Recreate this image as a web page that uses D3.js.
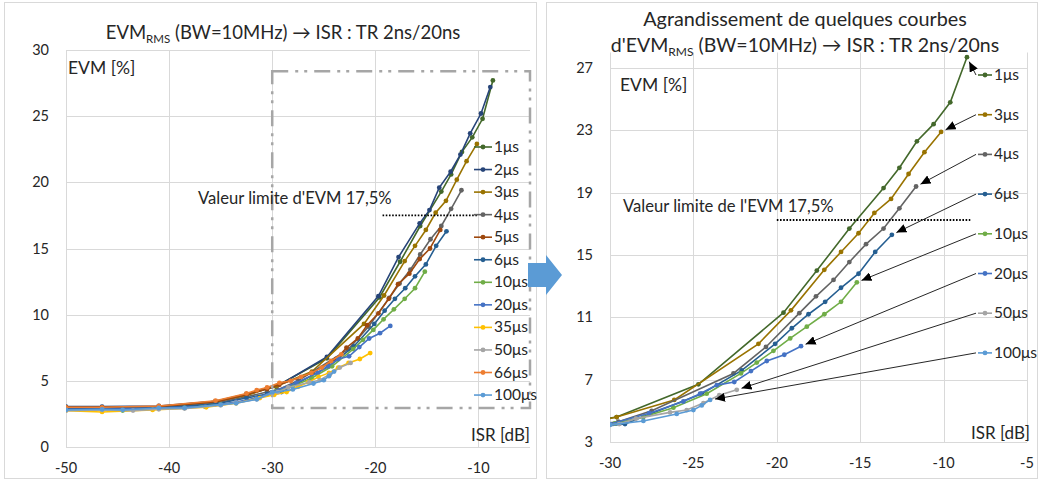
<!DOCTYPE html>
<html>
<head>
<meta charset="utf-8">
<script src="https://cdn.jsdelivr.net/npm/d3@7"></script>
<style>
  body { margin: 0; background: #fff; }
  svg { display: block; }
  text { font-family: Lato, "Noto Sans", sans-serif; fill: #262626; }
</style>
</head>
<body>
<svg id="chart" width="1040" height="481"></svg>
<script>
// ---- data: [ISR dB, EVM %] ----
const s1us = [[-50,3.0],[-46.5,3.0],[-41,3.05],[-35.5,3.45],[-32.5,4.0],[-30.5,4.45],[-29.6,4.6],[-24.7,6.7],[-19.6,11.3],[-17.6,14.0],[-15.65,16.7],[-13.6,19.3],[-12.65,20.6],[-11.6,22.3],[-10.6,23.4],[-9.6,24.8],[-8.6,27.7]];
const s2us = [[-50,3.05],[-46.5,3.05],[-41,3.1],[-35.5,3.45],[-32.5,3.95],[-30.5,4.4],[-29.6,4.55],[-24.7,6.8],[-19.7,11.4],[-17.75,14.35],[-15.7,16.9],[-14.75,17.9],[-13.8,19.6],[-12.7,20.8],[-11.75,22.1],[-10.8,23.7],[-9.75,25.2],[-8.85,27.2]];
const s3us = [[-50,2.95],[-46.5,2.95],[-41,3.0],[-35.5,3.4],[-32.5,3.9],[-30.5,4.4],[-29.6,4.6],[-26.15,5.7],[-21.1,9.3],[-19.15,11.45],[-17.15,14.05],[-16.15,15.2],[-15.1,16.4],[-14.15,17.7],[-13.15,18.6],[-12.1,20.2],[-11.15,21.6],[-10.15,22.9]];
const s4us = [[-50,2.9],[-46.5,2.9],[-41,2.95],[-35.5,3.3],[-32.5,3.8],[-30.5,4.15],[-29.5,4.3],[-27.5,5.0],[-22.6,7.4],[-20.65,9.1],[-18.65,11.27],[-17.65,12.35],[-16.6,13.4],[-15.65,14.55],[-14.65,15.7],[-13.6,16.7],[-12.65,18.0],[-11.65,19.4]];
const s5us = [[-50,3.0],[-46.5,3.0],[-41,3.05],[-35.5,3.4],[-32.5,3.95],[-30.5,4.4],[-29.3,4.7],[-26.1,5.6],[-23.8,6.65],[-22.8,7.5],[-21.7,8.2],[-20.8,9.2],[-19.7,10.1],[-18.7,11.2],[-17.8,12.3],[-16.7,13.1],[-15.7,14.2],[-14.7,15.0],[-13.7,16.4]];
const s6us = [[-50,2.95],[-46.5,2.95],[-41,2.95],[-35.5,3.25],[-32.5,3.7],[-30.5,4.0],[-29.1,4.15],[-27.6,4.8],[-24.5,6.1],[-22.1,7.6],[-20.1,9.3],[-19.1,10.3],[-18.1,11.2],[-17.1,12.0],[-16.15,12.9],[-15.1,13.8],[-14.1,15.2],[-13.1,16.3]];
const s10us = [[-50,2.8],[-46.5,2.8],[-44.5,2.75],[-41,2.9],[-38.5,2.95],[-35,3.2],[-33.5,3.35],[-31.5,3.7],[-29.7,4.2],[-28,4.6],[-26.2,5.2],[-24.2,6.1],[-22.15,7.4],[-21.2,8.1],[-20.2,8.85],[-19.2,9.65],[-18.2,10.4],[-17.15,11.2],[-16.15,12.0],[-15.2,13.25]];
const s20us = [[-50,2.85],[-46.5,2.85],[-41,2.95],[-36.5,3.05],[-33.5,3.4],[-31.5,3.7],[-30,4.15],[-27.65,4.85],[-25.6,5.6],[-24.6,6.1],[-23.6,6.65],[-22.55,6.85],[-21.55,7.55],[-20.6,8.2],[-19.55,8.6],[-18.55,9.15]];
const s35us = [[-50,2.75],[-46.5,2.65],[-41.6,2.8],[-36.4,3.0],[-33.5,3.3],[-31.2,3.7],[-29.8,3.95],[-28.6,4.15],[-27.5,4.55],[-26.5,4.9],[-25.5,5.3],[-24.5,5.6],[-23.6,6.0],[-22.6,6.35],[-21.5,6.65],[-20.5,7.1]];
const s50us = [[-50,2.75],[-46.5,2.8],[-43.5,2.75],[-41,2.85],[-38.5,2.9],[-35,3.15],[-33.5,3.35],[-31.5,3.6],[-30,4.1],[-29.45,4.15],[-28.45,4.5],[-26.4,4.9],[-25.4,5.05],[-24.4,5.5],[-23.45,6.0],[-22.4,6.35]];
const s66us = [[-50,3.0],[-46.5,3.0],[-41,3.1],[-35.5,3.5],[-32.5,4.05],[-31.5,4.3],[-30.5,4.5],[-29.3,4.85],[-28.2,5.0],[-27.2,5.3],[-26.2,5.6],[-25.2,6.0],[-24.3,6.5],[-23.3,7.0]];
const s100us = [[-50,2.8],[-46.5,2.85],[-44.5,2.8],[-41,2.95],[-38.5,2.95],[-35,3.2],[-33.5,3.3],[-31.5,3.6],[-30,4.1],[-28,4.35],[-26,4.8],[-25,5.05],[-24.5,5.35],[-24,5.7]];

const seriesNames = ["1μs","2μs","3μs","4μs","5μs","6μs","10μs","20μs","35μs","50μs","66μs","100μs"];
const seriesData = [s1us,s2us,s3us,s4us,s5us,s6us,s10us,s20us,s35us,s50us,s66us,s100us];
const seriesColors = ["#43682b","#264478","#997300","#636363","#9e480e","#255e91","#70ad47","#4472c4","#ffc000","#a5a5a5","#ed7d31","#5b9bd5"];
const zoomSeries = ["1μs","3μs","4μs","6μs","10μs","20μs","50μs","100μs"];

const leftXTicks = [-50,-40,-30,-20,-10];
const leftYTicks = [0,5,10,15,20,25,30];
const rightXTicks = [-30,-25,-20,-15,-10,-5];
const rightYTicks = [3,7,11,15,19,23,27];

const evmLimit = 17.5;
const zoomBox = {x0: -30, x1: -5, y0: 2.95, y1: 28.4};

const svg = d3.select("#chart");
const defs = svg.append("defs");
defs.append("marker")
  .attr("id", "arrowHead")
  .attr("markerUnits", "userSpaceOnUse")
  .attr("markerWidth", 11).attr("markerHeight", 9)
  .attr("refX", 10).attr("refY", 4.5)
  .attr("orient", "auto")
  .append("path").attr("d", "M0,0 L10,4.5 L0,9 Z").attr("fill", "#000");

// panel frames
svg.append("rect").attr("x", 4.5).attr("y", 2.5).attr("width", 532).attr("height", 476)
  .attr("fill", "none").attr("stroke", "#d9d9d9");
svg.append("rect").attr("x", 546.5).attr("y", 2.5).attr("width", 491).attr("height", 476)
  .attr("fill", "none").attr("stroke", "#d9d9d9");

function drawPanel(cfg) {
  const g = svg.append("g");
  const x = d3.scaleLinear().domain(cfg.xDomain).range(cfg.xRange);
  const y = d3.scaleLinear().domain(cfg.yDomain).range(cfg.yRange);

  // grid
  g.selectAll(".hg").data(cfg.yTicks).join("line")
    .attr("x1", cfg.xRange[0]).attr("x2", cfg.xRange[1])
    .attr("y1", d => Math.round(y(d)) + 0.5).attr("y2", d => Math.round(y(d)) + 0.5)
    .attr("stroke", "#d9d9d9");
  g.selectAll(".vg").data(cfg.xTicks).join("line")
    .attr("x1", d => Math.round(x(d)) + 0.5).attr("x2", d => Math.round(x(d)) + 0.5)
    .attr("y1", cfg.yRange[0]).attr("y2", cfg.gridTop)
    .attr("stroke", "#d9d9d9");

  // tick labels
  g.selectAll(".yl").data(cfg.yTicks).join("text")
    .attr("x", cfg.xRange[0] - 17).attr("y", d => y(d) + 5)
    .attr("text-anchor", "end").attr("font-size", 14.5)
    .text(d => d);
  g.selectAll(".xl").data(cfg.xTicks).join("text")
    .attr("x", d => x(d)).attr("y", cfg.yRange[0] + 26)
    .attr("text-anchor", "middle").attr("font-size", 14.5)
    .text(d => d);

  const clipId = "clip" + cfg.id;
  defs.append("clipPath").attr("id", clipId).append("rect")
    .attr("x", cfg.xRange[0]).attr("y", 0)
    .attr("width", cfg.xRange[1] - cfg.xRange[0]).attr("height", cfg.yRange[0]);

  const line = d3.line().x(d => x(d[0])).y(d => y(d[1]));
  const plot = g.append("g").attr("clip-path", `url(#${clipId})`);
  cfg.series.forEach(s => {
    plot.append("path").datum(s.data)
      .attr("d", line).attr("fill", "none")
      .attr("stroke", s.color).attr("stroke-width", 1.6);
    plot.selectAll(null).data(s.data.filter(d => d[0] >= cfg.xDomain[0])).join("circle")
      .attr("cx", d => x(d[0])).attr("cy", d => y(d[1])).attr("r", 2.4)
      .attr("fill", s.color);
  });

  return {g, x, y};
}

// ---------------- left panel ----------------
const left = drawPanel({
  id: "L",
  xDomain: [-50, -5], xRange: [66, 530],
  yDomain: [0, 30], yRange: [447, 50], gridTop: 50,
  xTicks: leftXTicks, yTicks: leftYTicks,
  series: seriesData.map((d, i) => ({data: d, color: seriesColors[i]}))
});

// zoom rectangle
left.g.append("rect")
  .attr("x", left.x(zoomBox.x0)).attr("y", left.y(zoomBox.y1))
  .attr("width", left.x(zoomBox.x1) - left.x(zoomBox.x0))
  .attr("height", left.y(zoomBox.y0) - left.y(zoomBox.y1))
  .attr("fill", "none").attr("stroke", "#a6a6a6").attr("stroke-width", 2.5)
  .attr("stroke-dasharray", "16,7,3,6,3,7");

left.g.append("line")
  .attr("x1", left.x(-19.3)).attr("x2", left.x(-10.1))
  .attr("y1", left.y(evmLimit)).attr("y2", left.y(evmLimit))
  .attr("stroke", "#000").attr("stroke-width", 1.8).attr("stroke-dasharray", "1.6,1.6");
left.g.append("text").attr("x", 198).attr("y", 204).attr("font-size", 16.6)
  .text("Valeur limite d'EVM 17,5%");

// left legend
const leftLegend = left.g.selectAll(".lg").data(seriesNames).join("g")
  .attr("transform", (d, i) => `translate(474,${147 + i * 22.55})`);
leftLegend.append("line").attr("x1", 0).attr("x2", 18)
  .attr("stroke", (d, i) => seriesColors[i]).attr("stroke-width", 1.6);
leftLegend.append("circle").attr("cx", 9).attr("r", 2.4).attr("fill", (d, i) => seriesColors[i]);
leftLegend.append("text").attr("x", 20).attr("y", 5).attr("font-size", 15.5)
  .attr("fill", "#404040").text(d => d);

left.g.append("text").attr("x", 68).attr("y", 74).attr("font-size", 17.5).text("EVM [%]");
left.g.append("text").attr("x", 530).attr("y", 441).attr("text-anchor", "end")
  .attr("font-size", 17).text("ISR [dB]");

const lt = left.g.append("text").attr("x", 283).attr("y", 39)
  .attr("text-anchor", "middle").attr("font-size", 18.5);
lt.append("tspan").text("EVM");
lt.append("tspan").attr("font-size", 11.5).attr("dy", 4).text("RMS");
lt.append("tspan").attr("dy", -4).text(" (BW=10MHz) → ISR : TR 2ns/20ns");

// ---------------- right panel ----------------
const zoomed = zoomSeries.map(n => {
  const i = seriesNames.indexOf(n);
  return {name: n, data: seriesData[i], color: seriesColors[i]};
});
const right = drawPanel({
  id: "R",
  xDomain: [-30, -5], xRange: [610, 1027],
  yDomain: [3, 28], yRange: [442, 52.5], gridTop: 52.5,
  xTicks: rightXTicks, yTicks: rightYTicks,
  series: zoomed
});

right.g.append("line")
  .attr("x1", right.x(-20)).attr("x2", right.x(-8.4))
  .attr("y1", right.y(17.25)).attr("y2", right.y(17.25))
  .attr("stroke", "#000").attr("stroke-width", 1.8).attr("stroke-dasharray", "1.6,1.6");
right.g.append("text").attr("x", 623).attr("y", 212).attr("font-size", 16.6)
  .text("Valeur limite de l'EVM 17,5%");

// right legend with leader arrows
zoomed.forEach((s, i) => {
  const ly = 75 + i * 39.7;
  right.g.append("line").attr("x1", 978).attr("x2", 992).attr("y1", ly).attr("y2", ly)
    .attr("stroke", s.color).attr("stroke-width", 1.6);
  right.g.append("circle").attr("cx", 985).attr("cy", ly).attr("r", 2.4).attr("fill", s.color);
  right.g.append("text").attr("x", 994).attr("y", ly + 5).attr("font-size", 15.5)
    .attr("fill", "#404040").text(s.name);

  const last = s.data[s.data.length - 1];
  const px = right.x(last[0]), py = right.y(last[1]);
  const dx = 976 - px, dy = ly - py, len = Math.hypot(dx, dy);
  right.g.append("line")
    .attr("x1", 976).attr("y1", ly)
    .attr("x2", px + dx / len * 5).attr("y2", py + dy / len * 5)
    .attr("stroke", "#262626").attr("stroke-width", 1)
    .attr("marker-end", "url(#arrowHead)");
});

right.g.append("text").attr("x", 620).attr("y", 91).attr("font-size", 17.5).text("EVM [%]");
right.g.append("text").attr("x", 1030).attr("y", 439).attr("text-anchor", "end")
  .attr("font-size", 17).text("ISR [dB]");

right.g.append("text").attr("x", 805).attr("y", 26).attr("text-anchor", "middle")
  .attr("font-size", 19.8).text("Agrandissement de quelques courbes");
const rt = right.g.append("text").attr("x", 805).attr("y", 52)
  .attr("text-anchor", "middle").attr("font-size", 19.5);
rt.append("tspan").text("d'EVM");
rt.append("tspan").attr("font-size", 12).attr("dy", 4).text("RMS");
rt.append("tspan").attr("dy", -4).text(" (BW=10MHz) → ISR : TR 2ns/20ns");

// blue block arrow between panels
svg.append("path")
  .attr("d", "M528,263 L546,263 L546,255 L562,275 L546,295 L546,287 L528,287 Z")
  .attr("fill", "#5b9bd5");
</script>
</body>
</html>
